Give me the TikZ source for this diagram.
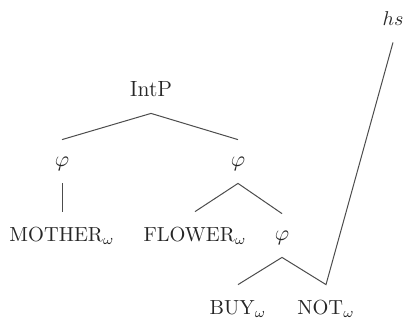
\documentclass[tikz,border=0pt]{standalone}
\begin{document}
\begin{tikzpicture}[x=0.5pt,y=-0.5pt,
  br/.style={line width=0.5pt, draw=black!70},
  word/.style={anchor=base, text=black!85, font=\fontsize{10.2}{12}\selectfont, text height=7pt, text depth=0pt, inner xsep=0pt, inner ysep=7.5pt},
  phin/.style={anchor=base, text=black!85, font=\fontsize{10.5}{12}\selectfont, text height=5pt, text depth=0.5pt, inner xsep=0pt, inner ysep=8pt},
  topn/.style={anchor=base, text=black!85, text depth=0pt, inner xsep=0pt, inner ysep=8.5pt}]
\useasboundingbox (0,0) rectangle (406,323);
\node[topn, font=\fontsize{11}{13}\selectfont] (IntP) at (151,96) {IntP};
\node[topn, font=\fontsize{10}{12}\selectfont] (hs) at (393,25) {$hs$};
\node[phin] (phiL) at (62,166) {$\varphi$};
\node[phin] (phiR) at (238,166) {$\varphi$};
\node[phin] (phiLow) at (282,240) {$\varphi$};
\node[word] (mother) at (62,241) {MOTHER$_\omega$};
\node[word] (flower) at (195,241) {FLOWER$_\omega$};
\node[word] (buy) at (238,314) {BUY$_\omega$};
\node[word] (not) at (326,314) {NOT$_\omega$};
\draw[br] (phiL.north) -- (IntP.south) -- (phiR.north);
\draw[br] (phiL.south) -- (mother.north);
\draw[br] (flower.north) -- (phiR.south) -- (phiLow.north);
\draw[br] (buy.north) -- (phiLow.south) -- (not.north) -- (hs.south);
\end{tikzpicture}
\end{document}
